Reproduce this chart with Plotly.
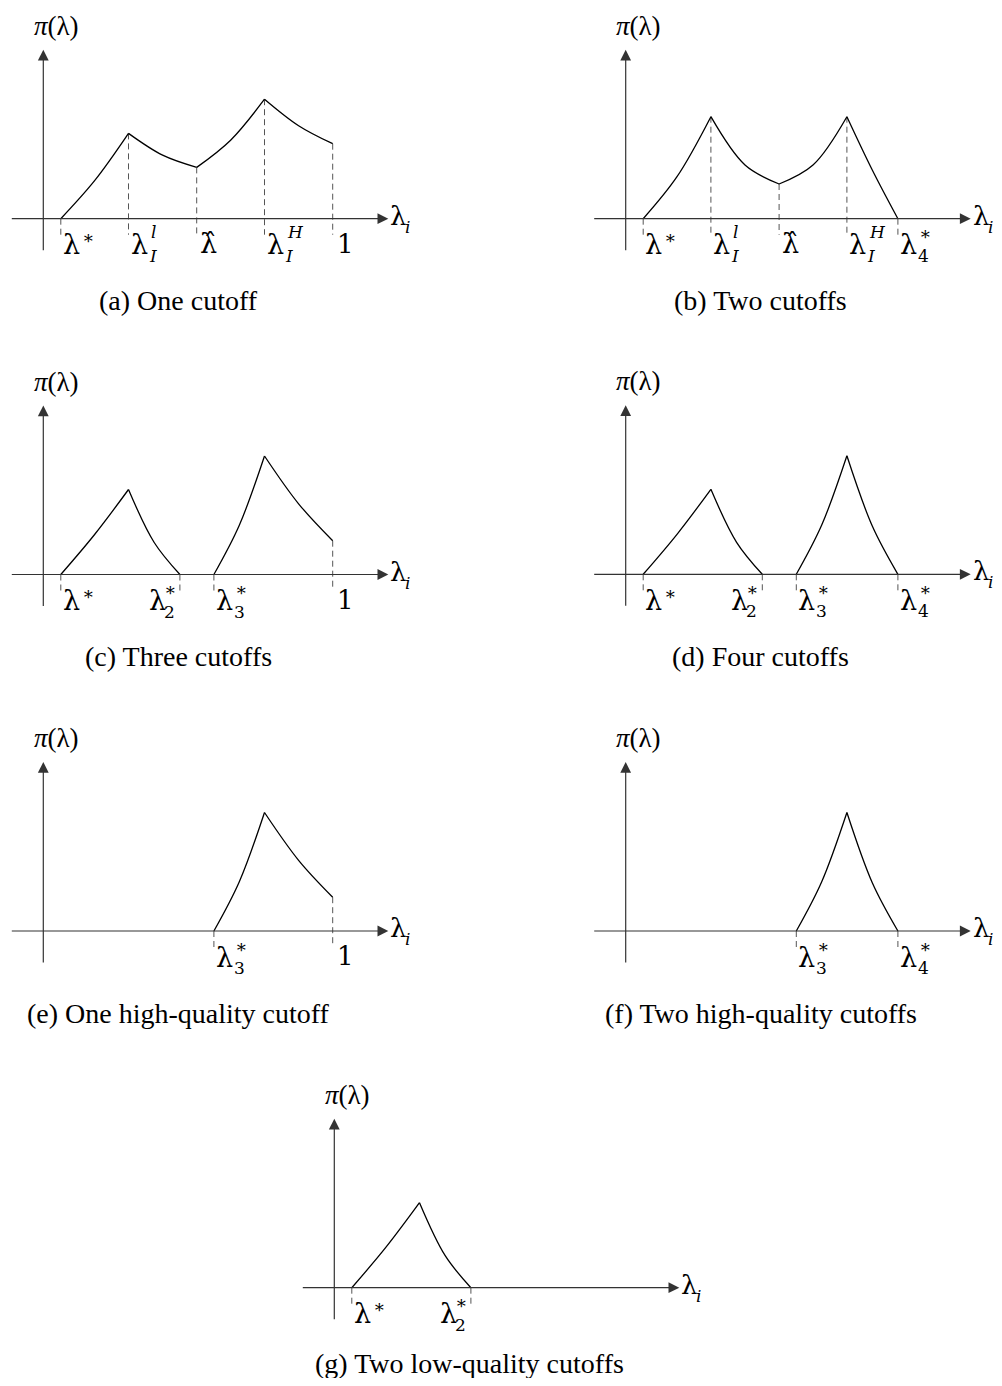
import plotly.graph_objects as go

W, H = 1002, 1386
PAD = 8  # default page margin of the html body
SERIF = "Liberation Serif"
MATH = "DejaVu Serif"

# positions on the lambda axis (measured in px from the vertical axis)
lam_star = 17.5
lam_Il = 85.2
lam_hat = 153.4
lam_IH = 221.2
lam_one = 289.4
lam_2 = 136.6
lam_3 = 170.6
lam_4 = 272.2

# profit curve pieces: each piece is start / middle / end point
a_pieces_x = [[17.5, 51.3, 85.2], [85.2, 119.3, 153.4], [153.4, 187.3, 221.2], [221.2, 255.3, 289.4]]
a_pieces_y = [[0, 38, 85.3], [85.3, 63.5, 51.3], [51.3, 78.5, 119.5], [119.5, 93, 75]]

b_pieces_x = [[17.5, 51.3, 85.2], [85.2, 119.3, 153.4], [153.4, 187.3, 221.2], [221.2, 246.7, 272.2]]
b_pieces_y = [[0, 42, 102], [102, 53.7, 34.7], [34.7, 53.7, 102], [102, 48.5, 0]]

c_pieces_x = [[17.5, 51.3, 85.2], [85.2, 110.9, 136.6], [170.6, 195.9, 221.2], [221.2, 255.3, 289.4]]
c_pieces_y = [[0, 40, 85], [85, 32, 0], [0, 49, 118.5], [118.5, 70.7, 33.8]]

d_pieces_x = [[17.5, 51.3, 85.2], [85.2, 110.9, 136.6], [170.6, 195.9, 221.2], [221.2, 246.7, 272.2]]
d_pieces_y = [[0, 40, 85], [85, 32, 0], [0, 49, 118.5], [118.5, 48, 0]]

e_pieces_x = [[170.6, 195.9, 221.2], [221.2, 255.3, 289.4]]
e_pieces_y = [[0, 49, 118.5], [118.5, 70.7, 33.8]]

f_pieces_x = [[170.6, 195.9, 221.2], [221.2, 246.7, 272.2]]
f_pieces_y = [[0, 49, 118.5], [118.5, 48, 0]]

g_pieces_x = [[17.5, 51.3, 85.2], [85.2, 110.9, 136.6]]
g_pieces_y = [[0, 40, 85], [85, 32, 0]]

# dashed drop lines: x position and height where they start
a_drops = [(lam_star, 0), (lam_Il, 85.3), (lam_hat, 51.3), (lam_IH, 119.5), (lam_one, 75)]
b_drops = [(lam_star, 0), (lam_Il, 102), (lam_hat, 34.7), (lam_IH, 102), (lam_4, 0)]
c_drops = [(lam_star, 0), (lam_2, 0), (lam_3, 0), (lam_one, 33.8)]
d_drops = [(lam_star, 0), (lam_2, 0), (lam_3, 0), (lam_4, 0)]
e_drops = [(lam_3, 0), (lam_one, 33.8)]
f_drops = [(lam_3, 0), (lam_4, 0)]
g_drops = [(lam_star, 0), (lam_2, 0)]

# tick labels: (x, base, sup, sub, side)
a_labels = [(lam_star, "λ", "∗", "", "l"), (lam_Il, "λ", "l", "I", "l"), (lam_hat, "λ̂", "", "", "l"),
            (lam_IH, "λ", "H", "I", "l"), (lam_one, "1", "", "", "l")]
b_labels = [(lam_star, "λ", "∗", "", "l"), (lam_Il, "λ", "l", "I", "l"), (lam_hat, "λ̂", "", "", "l"),
            (lam_IH, "λ", "H", "I", "l"), (lam_4, "λ", "∗", "4", "l")]
c_labels = [(lam_star, "λ", "∗", "", "l"), (lam_2, "λ", "∗", "2", "r"), (lam_3, "λ", "∗", "3", "l"),
            (lam_one, "1", "", "", "l")]
d_labels = [(lam_star, "λ", "∗", "", "l"), (lam_2, "λ", "∗", "2", "r"), (lam_3, "λ", "∗", "3", "l"),
            (lam_4, "λ", "∗", "4", "l")]
e_labels = [(lam_3, "λ", "∗", "3", "l"), (lam_one, "1", "", "", "l")]
f_labels = [(lam_3, "λ", "∗", "3", "l"), (lam_4, "λ", "∗", "4", "l")]
g_labels = [(lam_star, "λ", "∗", "", "l"), (lam_2, "λ", "∗", "2", "r")]

captions = ["(a) One cutoff", "(b) Two cutoffs", "(c) Three cutoffs", "(d) Four cutoffs",
            "(e) One high-quality cutoff", "(f) Two high-quality cutoffs", "(g) Two low-quality cutoffs"]

# page position (px) of each panel's origin
origins = [(43.3, 218.7), (625.7, 218.7), (43.3, 574.5), (625.7, 574.3),
           (43.3, 931), (625.7, 931), (334.3, 1287.7)]

panels = [
    (a_pieces_x, a_pieces_y, a_drops, a_labels),
    (b_pieces_x, b_pieces_y, b_drops, b_labels),
    (c_pieces_x, c_pieces_y, c_drops, c_labels),
    (d_pieces_x, d_pieces_y, d_drops, d_labels),
    (e_pieces_x, e_pieces_y, e_drops, e_labels),
    (f_pieces_x, f_pieces_y, f_drops, f_labels),
    (g_pieces_x, g_pieces_y, g_drops, g_labels),
]

FW, FH = W - PAD, H - 2 * PAD
XR = [-35, 368]
YR = [-88, 208]
BASE_W = 18
AXIS_C = "#333333"
DASH_C = "#555555"

fig = go.Figure()
annotations = []


def txt(ax, x, y, text, size, xanchor="left", xshift=0, yshift=0, family=MATH):
    annotations.append(dict(xref=f"x{ax}", yref=f"y{ax}", x=x, y=y, text=text, showarrow=False,
                            xanchor=xanchor, yanchor="middle", xshift=xshift, yshift=yshift,
                            font=dict(family=family, size=size, color="black")))


for k, (px, py, drops, labels) in enumerate(panels):
    n = k + 1
    ox, oy = origins[k][0] - PAD, origins[k][1] - PAD
    xa = "x" if n == 1 else f"x{n}"
    ya = "y" if n == 1 else f"y{n}"
    axn = "" if n == 1 else n
    fig.update_layout(**{
        f"xaxis{axn}": dict(domain=[(ox + XR[0]) / FW, (ox + XR[1]) / FW], range=XR,
                            visible=False, fixedrange=True, anchor=ya),
        f"yaxis{axn}": dict(domain=[1 - (oy - YR[0]) / FH, 1 - (oy - YR[1]) / FH], range=YR,
                            visible=False, fixedrange=True, anchor=xa),
    })

    # dashed drop lines
    for xv, yt in drops:
        fig.add_trace(go.Scatter(x=[xv, xv], y=[yt, -16], mode="lines", xaxis=xa, yaxis=ya,
                                 line=dict(color=DASH_C, width=1, dash="6px,4px"),
                                 showlegend=False, hoverinfo="skip"))

    # curve pieces
    for xs, ys in zip(px, py):
        fig.add_trace(go.Scatter(x=xs, y=ys, mode="lines", xaxis=xa, yaxis=ya,
                                 line=dict(color="black", width=1.3, shape="spline", smoothing=1),
                                 showlegend=False, hoverinfo="skip"))

    # axes with arrow heads
    annotations.append(dict(xref=xa, yref=ya, axref=xa, ayref=ya, x=345, y=0, ax=-33, ay=0,
                            text="", showarrow=True, arrowhead=2, arrowsize=1.8, arrowwidth=1.2,
                            arrowcolor=AXIS_C, standoff=0))
    annotations.append(dict(xref=xa, yref=ya, axref=xa, ayref=ya, x=0, y=169, ax=0, ay=-33,
                            text="", showarrow=True, arrowhead=2, arrowsize=1.8, arrowwidth=1.2,
                            arrowcolor=AXIS_C, standoff=0))

    txt(axn, 13, 193, "<i>π</i>(λ)", 27, xanchor="center", family=SERIF)
    txt(axn, 345, 0, "λ", 26, xshift=0, yshift=3)
    txt(axn, 345, 0, "<i>i</i>", 17, xshift=15, yshift=-8)
    txt(axn, 135, -82, captions[k], 28, xanchor="center", family=SERIF, yshift=6 if n == 7 else 0)

    for xv, base, sup, sub, side in labels:
        if base == "1":
            txt(axn, xv, 0, "1", 26, xshift=2, yshift=-25)
            continue
        if not sup:
            txt(axn, xv, 0, base, 27, xshift=1, yshift=-25)
            continue
        sup_y = -15 if sub else -19
        if side == "l":
            txt(axn, xv, 0, base, 27, xshift=0, yshift=-26)
            sx = BASE_W
            if sup == "∗":
                txt(axn, xv, 0, sup, 18, xshift=sx + 1, yshift=sup_y)
            else:
                txt(axn, xv, 0, f"<i>{sup}</i>", 17, xshift=sx + 2, yshift=-13)
            if sub:
                txt(axn, xv, 0, sub if sub.isdigit() else f"<i>{sub}</i>", 17, xshift=sx, yshift=-37)
        else:
            txt(axn, xv, 0, sup, 18, xanchor="right", xshift=-2, yshift=sup_y)
            txt(axn, xv, 0, sub, 17, xanchor="right", xshift=-3, yshift=-37)
            txt(axn, xv, 0, base, 27, xanchor="right", xshift=-12, yshift=-26)

fig.update_layout(width=FW, height=FH, autosize=False, margin=dict(l=0, r=0, t=0, b=0),
                  paper_bgcolor="white", plot_bgcolor="white", showlegend=False,
                  annotations=annotations)

fig.write_html("out.html")
